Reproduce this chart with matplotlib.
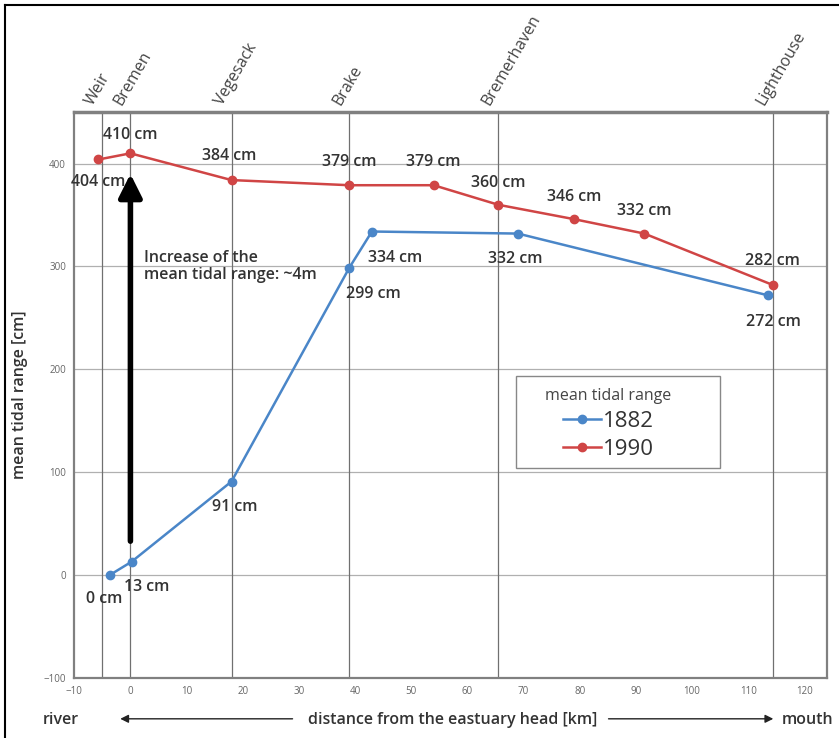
import numpy as np
import matplotlib
matplotlib.use("Agg")
import matplotlib.pyplot as plt
from matplotlib.lines import Line2D
from matplotlib.patches import Rectangle, FancyArrowPatch

plt.rcParams['font.family'] = ['Open Sans', 'DejaVu Sans']

# ---------------------------
# data
# ---------------------------
stations = ["Weir", "Bremen", "Vegesack", "Brake", "Bremerhaven", "Lighthouse"]
station_km = [-5, 0, 18, 39, 65.5, 114.4]

km_1990 = [-5.7, 0, 18, 39, 54, 65.5, 79, 91.5, 114.4]
tr_1990 = [404, 410, 384, 379, 379, 360, 346, 332, 282]
# label offsets in points (dx, dy)
off_1990 = [(0, -16), (0, 13), (-2, 17), (0, 17), (0, 17), (0, 16), (0, 16), (0, 16), (0, 17)]

km_1882 = [-3.7, 0.2, 18, 39, 43, 69, 113.5]
tr_1882 = [0, 13, 91, 299, 334, 332, 272]
off_1882 = [(-4, -17), (11, -18), (2, -18), (17, -19), (17, -19), (-2, -18), (4, -19)]

blue = "#4a86c8"
red = "#d04545"
txt = "#333333"

fig = plt.figure(figsize=(8.39, 7.38), dpi=100)
ax = fig.add_axes([0.0885, 0.0813, 0.897, 0.7667])

# grid: horizontal lines + vertical lines at the stations
for y in [0, 100, 200, 300, 400]:
    ax.axhline(y, color="#b0b0b0", lw=0.9, zorder=0)
for x in station_km:
    ax.axvline(x, color="#707070", lw=0.9, zorder=0)

ax.plot(km_1882, tr_1882, "-o", color=blue, lw=1.8, ms=6, label="1882", zorder=3)
ax.plot(km_1990, tr_1990, "-o", color=red, lw=1.8, ms=6, label="1990", zorder=3)

for x, y, (dx, dy) in zip(km_1990, tr_1990, off_1990):
    ax.annotate(f"{y} cm", (x, y), xytext=(dx, dy), textcoords="offset points",
                ha="center", va="center", fontsize=11.5, fontweight="semibold", color=txt)
for x, y, (dx, dy) in zip(km_1882, tr_1882, off_1882):
    ax.annotate(f"{y} cm", (x, y), xytext=(dx, dy), textcoords="offset points",
                ha="center", va="center", fontsize=11.5, fontweight="semibold", color=txt)

# big arrow at Bremen
ax.annotate("", xy=(0, 390), xytext=(0, 33),
            arrowprops=dict(arrowstyle="-|>", lw=4, color="black", mutation_scale=35,
                            shrinkA=0, shrinkB=0))
ax.text(2.5, 300, "Increase of the\nmean tidal range: ~4m", fontsize=11.5,
        fontweight="semibold", color=txt, va="center", ha="left", linespacing=1.1)

# station names above the plot
for x, name in zip(station_km, stations):
    ax.text(x - 1.0, 454, name, rotation=60, rotation_mode="anchor", ha="left", va="bottom",
            fontsize=11.5, color="#444444")

ax.set_xlim(-10, 124)
ax.set_ylim(-100, 450)
ax.set_xticks(np.arange(-10, 121, 10))
ax.set_yticks(np.arange(-100, 401, 100))
ax.tick_params(length=0, labelsize=7, colors="#666666", pad=6)
for s in ax.spines.values():
    s.set_color("#808080")
    s.set_linewidth(1.6)
ax.spines["top"].set_linewidth(2.5)

ax.set_ylabel("mean tidal range [cm]", fontsize=11.5, fontweight="semibold", color=txt, labelpad=11)

# legend: box drawn separately so it can be wider than its content
ax.add_patch(Rectangle((0.587, 0.371), 0.271, 0.163, transform=ax.transAxes, fill=True,
                       facecolor="white", edgecolor="#888888", lw=1.0, zorder=4))
leg = ax.legend(title="mean tidal range", loc="center", bbox_to_anchor=(0.71, 0.449),
                fontsize=16, title_fontsize=11.5, frameon=False,
                handlelength=1.7, handletextpad=0.1, borderpad=0.3, labelspacing=0.3,
                borderaxespad=0)
leg.set_zorder(5)
for t in leg.get_texts():
    t.set_color("#333333")
leg.get_title().set_color("#444444")

# bottom caption with arrows
fig.text(0.073, 0.024, "river", fontsize=11.5, fontweight="semibold", color=txt, ha="center", va="center")
fig.text(0.539, 0.024, "distance from the eastuary head [km]", fontsize=11.5, fontweight="semibold",
         color=txt, ha="center", va="center")
fig.text(0.962, 0.024, "mouth", fontsize=11.5, fontweight="semibold", color=txt, ha="center", va="center")
fig.patches.append(FancyArrowPatch((0.352, 0.026), (0.14, 0.026),
                   transform=fig.transFigure, arrowstyle="-|>", mutation_scale=12, lw=1, color="#222222"))
fig.patches.append(FancyArrowPatch((0.722, 0.026), (0.925, 0.026),
                   transform=fig.transFigure, arrowstyle="-|>", mutation_scale=12, lw=1, color="#222222"))

# outer frame lines (top and left)
fig.add_artist(Line2D([0.006, 1], [0.993, 0.993], color="black", lw=1.5, transform=fig.transFigure))
fig.add_artist(Line2D([0.006, 0.006], [0, 0.993], color="black", lw=1.5, transform=fig.transFigure))

fig.savefig("out.png", dpi=100)
